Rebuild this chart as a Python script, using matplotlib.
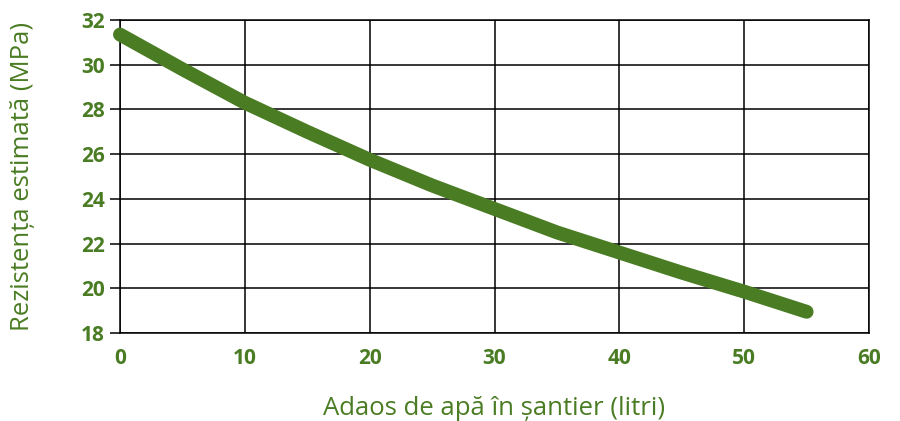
import numpy as np
import matplotlib
matplotlib.use("Agg")
import matplotlib.pyplot as plt

# date
apa_litri = [0, 5, 10, 15, 20, 25, 30, 35, 40, 45, 50, 55]
rezistenta = [31.35, 29.8, 28.3, 27.0, 25.75, 24.6, 23.55, 22.5, 21.6, 20.7, 19.85, 18.95]

x_ticks = [0, 10, 20, 30, 40, 50, 60]
y_ticks = [18, 20, 22, 24, 26, 28, 30, 32]

VERDE = "#4a7c23"

plt.rcParams["font.family"] = ["Open Sans", "DejaVu Sans"]

fig = plt.figure(figsize=(9, 4.21), dpi=100)
ax = fig.add_axes([0.1333, 0.209, 0.8323, 0.7435])

ax.plot(apa_litri, rezistenta, color=VERDE, linewidth=10, solid_capstyle="round",
        zorder=3, clip_on=False)

ax.set_xlim(0, 60)
ax.set_ylim(18, 32)
ax.set_xticks(x_ticks)
ax.set_yticks(y_ticks)
ax.grid(True, color="black", linewidth=1.1)
ax.set_axisbelow(True)

for s in ax.spines.values():
    s.set_color("black")
    s.set_linewidth(1.1)

ax.tick_params(axis="y", length=7, width=1.1, color="black", pad=4,
               labelsize=15, labelcolor=VERDE)
ax.tick_params(axis="x", length=0, pad=11, labelsize=15, labelcolor=VERDE)
for lbl in ax.get_xticklabels() + ax.get_yticklabels():
    lbl.set_fontweight("bold")

ax.set_xlabel("Adaos de apă în șantier (litri)", color=VERDE, fontsize=18.5)
ax.set_ylabel("Rezistența estimată (MPa)", color=VERDE, fontsize=18.5)
ax.xaxis.set_label_coords(0.5, -0.2)
ax.yaxis.set_label_coords(-0.113, 0.5)

fig.savefig("out.png", dpi=100)
